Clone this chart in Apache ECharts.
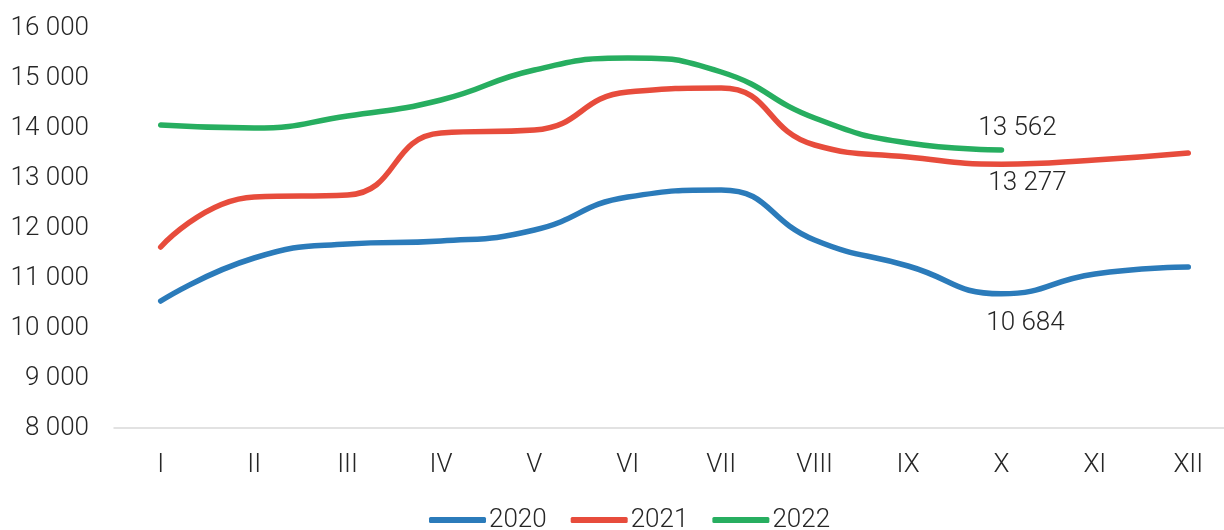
<!DOCTYPE html>
<html>
<head>
<meta charset="utf-8">
<script src="https://cdn.jsdelivr.net/npm/echarts@6/dist/echarts.min.js"></script>
<style>
  html, body { margin: 0; padding: 0; background: #fff; }
  #chart { width: 1224px; height: 530px; }
</style>
</head>
<body>
<div id="chart"></div>
<script>
// months in roman numerals
const months = ['I', 'II', 'III', 'IV', 'V', 'VI', 'VII', 'VIII', 'IX', 'X', 'XI', 'XII'];
const years = ['2020', '2021', '2022'];

const values2020 = [10540, 11400, 11680, 11740, 11960, 12620, 12760, 11760, 11240, 10684, 11080, 11220];
const values2021 = [11620, 12620, 12660, 13900, 13960, 14720, 14800, 13660, 13420, 13277, 13360, 13500];
const values2022 = [14060, 14000, 14240, 14560, 15160, 15400, 15120, 14200, 13700, 13562];

// index of the labelled point (X)
const labelIdx = 9;

const colors = ['#2B7BBA', '#E74C3C', '#27AE60'];
const fontName = 'Roboto';
const fs = 26;

function fmt(v) {
    return String(Math.round(v)).replace(/\B(?=(\d{3})+(?!\d))/g, ' ');
}

function buildData(vals, labelCfg) {
    return vals.map((v, i) => {
        if (i !== labelIdx) return v;
        return { value: v, label: Object.assign({ show: true }, labelCfg) };
    });
}

const labelBase = {
    color: '#262626',
    fontFamily: fontName,
    fontWeight: 300,
    fontSize: fs,
    formatter: p => fmt(p.value)
};

const chart = echarts.init(document.getElementById('chart'));

function lineSeries(name, vals, labelCfg) {
    return {
        name: name, type: 'line', smooth: 0.5,
        symbol: 'circle', symbolSize: 0, showSymbol: true,
        lineStyle: { width: 5.5, cap: 'round' },
        label: { show: false },
        emphasis: { disabled: true },
        data: buildData(vals, Object.assign({}, labelBase, labelCfg))
    };
}

chart.setOption({
    animation: false,
    color: colors,
    // plot area runs a little past the right edge, like the original
    grid: { left: 114, width: 1121, top: 28, bottom: 102, containLabel: false, outerBoundsMode: 'none' },
    legend: {
        data: years,
        bottom: -8,
        left: 424,
        icon: 'roundRect',
        itemWidth: 57,
        itemHeight: 6,
        itemGap: 24,
        textStyle: { fontFamily: fontName, fontWeight: 300, fontSize: fs, color: '#262626', padding: [0, 0, 0, -2] }
    },
    xAxis: {
        type: 'category',
        data: months,
        boundaryGap: true,
        axisLine: { lineStyle: { color: '#d9d9d9', width: 1.5 } },
        axisTick: { show: false },
        axisLabel: { fontFamily: fontName, fontWeight: 300, fontSize: fs, color: '#262626', margin: 24 }
    },
    yAxis: {
        type: 'value',
        min: 8000,
        max: 16000,
        interval: 1000,
        splitLine: { show: false },
        axisLine: { show: false },
        axisTick: { show: false },
        axisLabel: {
            fontFamily: fontName, fontWeight: 300, fontSize: fs, color: '#262626', margin: 25,
            formatter: v => fmt(v)
        }
    },
    series: [
        lineSeries(years[0], values2020, { position: 'bottom', distance: 17, offset: [24, 0] }),
        lineSeries(years[1], values2021, { position: 'bottom', distance: 6, offset: [26, 0] }),
        lineSeries(years[2], values2022, { position: 'top', distance: 8, offset: [16, 0] })
    ]
});
</script>
</body>
</html>
